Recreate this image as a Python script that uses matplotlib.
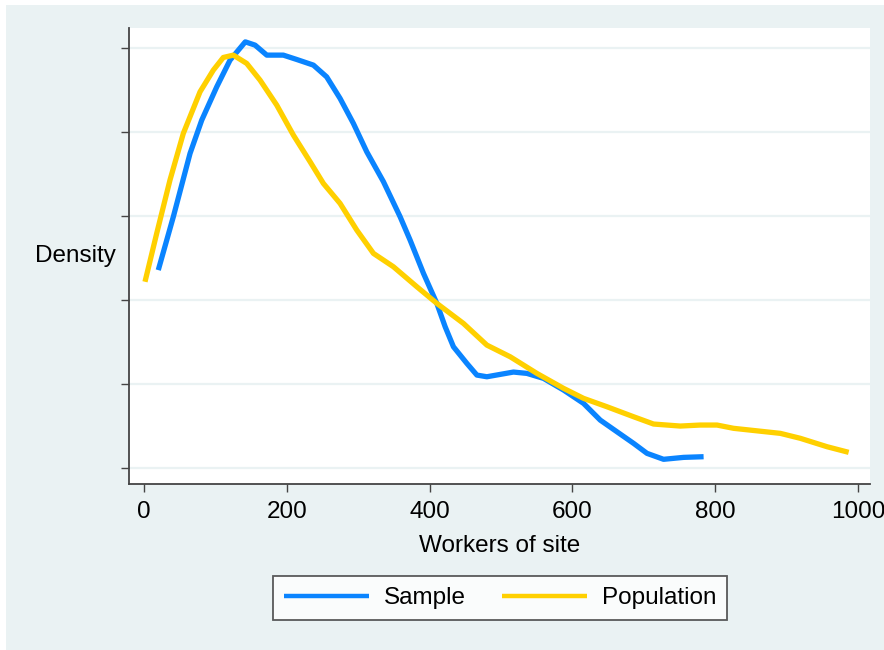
import matplotlib
matplotlib.use("Agg")
import matplotlib.pyplot as plt
from matplotlib.patches import Rectangle

plt.rcParams['font.family'] = ['Liberation Sans', 'DejaVu Sans']

# kernel density, values (y in tick units)
sample_x = [20.0, 41.1, 64.5, 80.9, 101.9, 120.5, 141.9, 155.6, 172.0, 195.2,
            214.0, 237.3, 255.9, 274.7, 293.3, 312.1, 335.4, 358.8, 372.8, 391.5,
            410.2, 421.9, 433.5, 452.3, 466.3, 480.3, 498.9, 517.6, 536.4, 559.6,
            587.7, 615.7, 639.1, 662.5, 685.8, 704.6, 727.8, 755.9, 783.9]
sample_y = [2.357, 2.992, 3.746, 4.143, 4.539, 4.857, 5.075, 5.036, 4.917, 4.917,
            4.865, 4.798, 4.658, 4.401, 4.104, 3.765, 3.41, 2.992, 2.714, 2.318,
            1.961, 1.682, 1.444, 1.246, 1.107, 1.087, 1.115, 1.143, 1.127, 1.068,
            0.929, 0.770, 0.571, 0.432, 0.294, 0.175, 0.104, 0.127, 0.135]

pop_x = [1.4, 17.8, 36.4, 55.1, 78.5, 97.1, 111.1, 125.2, 143.9, 162.6,
         186.0, 209.3, 232.7, 251.3, 274.7, 298.1, 321.4, 349.4, 382.2, 410.2,
         447.5, 480.3, 513.0, 550.4, 587.7, 615.7, 648.5, 685.8, 713.8, 751.2,
         779.2, 802.7, 825.9, 891.4, 919.4, 956.8, 987.1]
pop_y = [2.218, 2.794, 3.429, 3.985, 4.480, 4.738, 4.889, 4.917, 4.818, 4.619,
         4.321, 3.964, 3.647, 3.389, 3.151, 2.833, 2.556, 2.397, 2.159, 1.961,
         1.722, 1.464, 1.325, 1.127, 0.949, 0.830, 0.730, 0.611, 0.524, 0.500,
         0.512, 0.512, 0.473, 0.413, 0.354, 0.254, 0.187]

x_ticks = [0, 200, 400, 600, 800, 1000]
y_ticks = [0, 1, 2, 3, 4, 5]

bg = '#EAF2F3'
fig = plt.figure(figsize=(8.84, 6.5), dpi=100)
fig.patch.set_facecolor('white')
fig.add_artist(Rectangle((6 / 884, 0), 1, 1 - 5 / 650, transform=fig.transFigure,
                         facecolor=bg, edgecolor='none', zorder=-1))

ax = fig.add_axes([129 / 884, 1 - 484 / 650, 741 / 884, 456 / 650])
ax.set_facecolor('white')

ax.plot(sample_x, sample_y, color='#0A84FF', lw=3.8, label='Sample',
        solid_capstyle='butt', solid_joinstyle='round')
ax.plot(pop_x, pop_y, color='#FFD000', lw=3.8, label='Population',
        solid_capstyle='butt', solid_joinstyle='round')

ax.set_xlim(-21, 1017)
ax.set_ylim(-0.19, 5.24)
ax.set_xticks(x_ticks)
ax.set_yticks(y_ticks)
ax.set_yticklabels([])
ax.tick_params(axis='both', direction='out', length=6, width=1, color='#444444',
               labelsize=17.5, pad=6)
ax.grid(axis='y', color=bg, lw=1.6)
ax.set_axisbelow(True)

for s in ['top', 'right']:
    ax.spines[s].set_visible(False)
for s in ['left', 'bottom']:
    ax.spines[s].set_color('#444444')
    ax.spines[s].set_linewidth(1.3)

ax.set_xlabel('Workers of site', fontsize=17.5, labelpad=9)
ax.set_ylabel('Density', fontsize=17.5, rotation=0, ha='right', va='center')
ax.yaxis.set_label_coords(-0.018, 0.5)

leg = fig.legend(loc='center', bbox_to_anchor=(500 / 884, 1 - 598 / 650), ncol=2,
                 fontsize=17.5, frameon=True, fancybox=False, handlelength=3.5,
                 handletextpad=0.6, columnspacing=1.5, borderpad=0.45)
leg.get_frame().set_edgecolor('#333333')
leg.get_frame().set_linewidth(1.3)
for line in leg.get_lines():
    line.set_linewidth(3.2)

fig.savefig('out.png', dpi=100, facecolor=fig.get_facecolor())
